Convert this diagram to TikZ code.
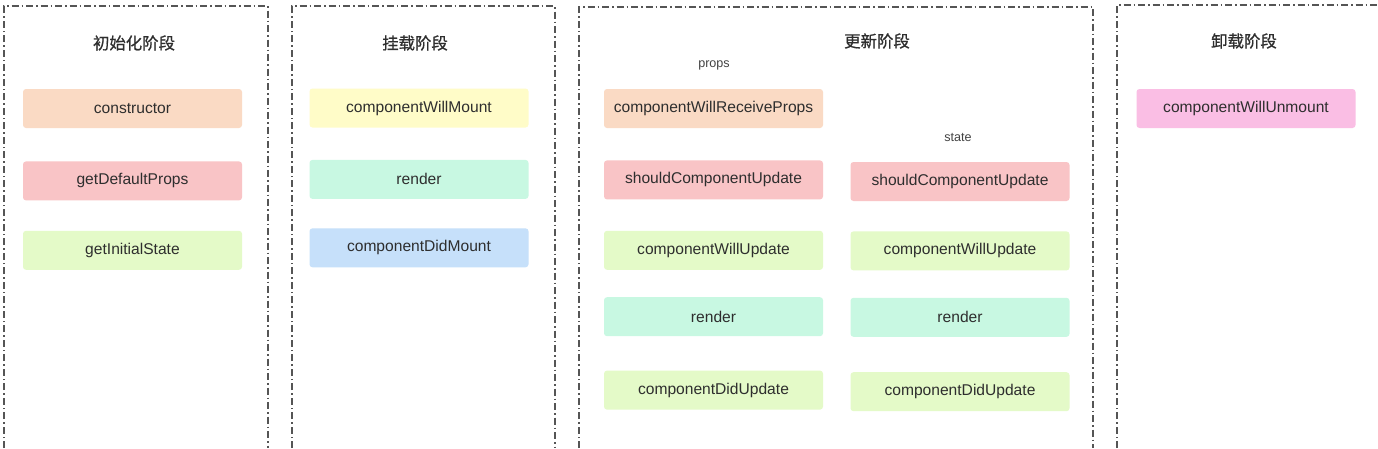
\documentclass[tikz,border=0pt]{standalone}
\usepackage{fontspec}
\setmainfont{Liberation Sans}
\newfontfamily\cjk[FakeBold=0.8]{Noto Sans CJK SC}
\usepackage{tikz}
\usetikzlibrary{positioning}
\definecolor{peach}{HTML}{FADAC4}
\definecolor{rose}{HTML}{F9C4C6}
\definecolor{lime}{HTML}{E4FAC8}
\definecolor{lemon}{HTML}{FFFCC8}
\definecolor{mint}{HTML}{C8F8E2}
\definecolor{sky}{HTML}{C6E0FA}
\definecolor{orchid}{HTML}{FABEE4}
\definecolor{ink}{HTML}{2E2E2E}
\definecolor{frame}{HTML}{555555}
\tikzstyle{box} = [rectangle, rounded corners = 3pt,
  minimum width = 219pt, minimum height = 39pt, inner sep = 0,
  text = ink, font = \fontsize{15.6}{18}\selectfont, text centered]
\tikzstyle{title} = [text = ink, font = \cjk\fontsize{16.4}{19}\selectfont]
\tikzstyle{cue} = [text = ink!90, font = \fontsize{12.6}{15}\selectfont]
\tikzstyle{panel} = [draw = frame, line width = 1.4pt,
  dash pattern = on 7pt off 3pt on 1.5pt off 3pt]

\begin{document}
\begin{tikzpicture}[x = 1pt, y = -1pt, node distance = 30pt]
    \useasboundingbox [fill = white] (0, 0) rectangle (1378, 448);

    % stage frames, open at the bottom
    \draw [panel] (4, 448) |- (268, 6) -- (268, 448);
    \draw [panel] (292, 448) |- (555, 6) -- (555, 448);
    \draw [panel] (579, 448) |- (1093, 7) -- (1093, 448);
    \draw [panel] (1117, 448) |- (1378, 5);

    \node [title] (title-init) at (134, 43) {初始化阶段};
    \node [title] (title-mount) at (415, 43) {挂载阶段};
    \node [title] (title-update) at (877, 41) {更新阶段};
    \node [title] (title-unmount) at (1244, 41) {卸载阶段};

    % init
    \node [box, fill = peach] (init-1) at (132.5, 108.5) {constructor};
    \node [box, fill = rose, below = 33pt of init-1] (init-2) {getDefaultProps};
    \node [box, fill = lime, below = 30pt of init-2] (init-3) {getInitialState};

    % mount
    \node [box, fill = lemon] (mount-1) at (419, 108) {componentWillMount};
    \node [box, fill = mint, below = 32pt of mount-1] (mount-2) {render};
    \node [box, fill = sky, below = 29pt of mount-2] (mount-3) {componentDidMount};

    % update from props
    \node [cue] (cue-props) at (714, 65) {props};
    \node [box, fill = peach] (props-1) at (713.5, 108.5) {componentWillReceiveProps};
    \node [box, fill = rose, below = 32pt of props-1] (props-2) {shouldComponentUpdate};
    \node [box, fill = lime, below = 31pt of props-2] (props-3) {componentWillUpdate};
    \node [box, fill = mint, below = 27pt of props-3] (props-4) {render};
    \node [box, fill = lime, below = 34pt of props-4] (props-5) {componentDidUpdate};

    % update from state
    \node [cue] (cue-state) at (958, 137) {state};
    \node [box, fill = rose] (state-1) at (960, 181.5) {shouldComponentUpdate};
    \node [box, fill = lime, below = 30pt of state-1] (state-2) {componentWillUpdate};
    \node [box, fill = mint, below = 27pt of state-2] (state-3) {render};
    \node [box, fill = lime, below = 35pt of state-3] (state-4) {componentDidUpdate};

    % unmount
    \node [box, fill = orchid] (unmount-1) at (1246, 108.5) {componentWillUnmount};
  \end{tikzpicture}
\end{document}
